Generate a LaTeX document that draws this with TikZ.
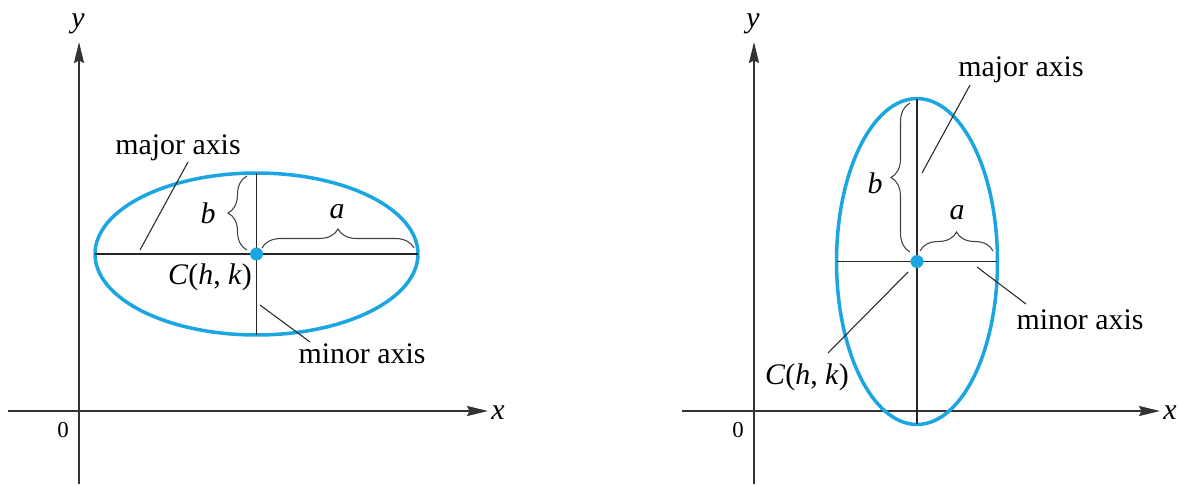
\documentclass[tikz,border=0pt]{standalone}
\usepackage{fontspec}
\setmainfont{Liberation Serif}
\usetikzlibrary{arrows.meta,shapes.geometric,decorations.pathreplacing}

\definecolor{ellblue}{RGB}{27,166,226}

\begin{document}
\begin{tikzpicture}[x=0.02cm, y=-0.02cm,
axis/.style={line width=1.1pt, draw=black!80, -{Stealth[length=0.42cm, width=0.2cm, inset=0.05cm]}},
oval/.style={ellipse, draw=ellblue, line width=2pt, inner sep=0pt, outer sep=0pt},
chord/.style={draw=black!85, line width=0.8pt},
leader/.style={draw=black!85, line width=0.6pt},
brc/.style={draw=black!75, line width=0.6pt, decorate, decoration={brace, amplitude=0.38cm}},
lbl/.style={font=\fontsize{17}{20}\selectfont, inner sep=0pt},
zero/.style={font=\fontsize{13}{15}\selectfont, inner sep=0pt},
cdot/.style={circle, fill=ellblue, inner sep=0pt, minimum size=0.26cm}
]
\useasboundingbox (0,0) rectangle (1180,484);

% left: horizontal major axis
\coordinate (lxs) at (8,411);
\coordinate (lxe) at (488,411);
\coordinate (lys) at (79,484);
\coordinate (lye) at (79,42);
\draw[axis] (lxs) -- (lxe);
\draw[axis] (lys) -- (lye);
\node[lbl] (lx) at (498,413) {\textit{x}};
\node[lbl] (ly) at (78,24) {\textit{y}};
\node[zero] (l0) at (63,430) {0};

\node[oval, minimum width=6.46cm, minimum height=3.24cm] (ell) at (256.5,254) {};
\draw[chord] (ell.west) -- (ell.east);
\draw[chord] (ell.north) -- (ell.south);
\node[cdot] (cl) at (ell.center) {};

\draw[brc] (247,250) -- (247,176);
\draw[brc] (262,248) -- (414,248);
\node[lbl] (lb) at (208,213) {\textit{b}};
\node[lbl] (la) at (337,212) {\textit{a}};
\node[lbl] (lc) at (210,277) {\textit{C}(\textit{h}, \textit{k})};

\node[lbl] (lmaj) at (178,148) {major axis};
\coordinate (lmaja) at (188,162);
\coordinate (lmajb) at (140,250);
\draw[leader] (lmaja) -- (lmajb);
\node[lbl] (lmin) at (362,354) {minor axis};
\coordinate (lmina) at (310,342);
\coordinate (lminb) at (260,305);
\draw[leader] (lmina) -- (lminb);

% right: vertical major axis
\coordinate (rxs) at (682,411);
\coordinate (rxe) at (1160,411);
\coordinate (rys) at (754,484);
\coordinate (rye) at (754,42);
\draw[axis] (rxs) -- (rxe);
\draw[axis] (rys) -- (rye);
\node[lbl] (rx) at (1170,413) {\textit{x}};
\node[lbl] (ry) at (753,24) {\textit{y}};
\node[zero] (r0) at (738,430) {0};

\node[oval, minimum width=3.22cm, minimum height=6.52cm] (elr) at (917,261.5) {};
\draw[chord] (elr.west) -- (elr.east);
\draw[chord] (elr.north) -- (elr.south);
\node[cdot] (cr) at (elr.center) {};

\draw[brc] (910,252) -- (910,103);
\draw[brc] (920,251) -- (993,251);
\node[lbl] (rb) at (875,183) {\textit{b}};
\node[lbl] (ra) at (957,213) {\textit{a}};
\node[lbl] (rc) at (807,377) {\textit{C}(\textit{h}, \textit{k})};

\node[lbl] (rmaj) at (1021,70) {major axis};
\coordinate (rmaja) at (970,85);
\coordinate (rmajb) at (922,173);
\draw[leader] (rmaja) -- (rmajb);
\node[lbl] (rmin) at (1080,320) {minor axis};
\coordinate (rmina) at (1026,304);
\coordinate (rminb) at (977,267);
\draw[leader] (rmina) -- (rminb);
\coordinate (rca) at (828,353);
\coordinate (rcb) at (908,272);
\draw[leader] (rca) -- (rcb);
\end{tikzpicture}
\end{document}
